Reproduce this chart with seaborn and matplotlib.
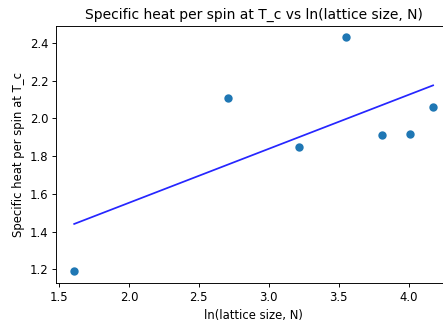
import numpy as np
import pandas as pd
import matplotlib
matplotlib.use("Agg")
import matplotlib.pyplot as plt
import seaborn as sns

ln_lattice_size = [1.609, 2.708, 3.219, 3.555, 3.807, 4.007, 4.174]
specific_heat = [1.19, 2.11, 1.85, 2.43, 1.91, 1.92, 2.06]

df = pd.DataFrame({"x": ln_lattice_size, "y": specific_heat})
slope, intercept = np.polyfit(df["x"], df["y"], 1)
fit = pd.DataFrame({"x": df["x"], "y": slope * df["x"] + intercept})

plt.rcParams['font.family'] = ['DejaVu Sans']
k = 1.16
fig = plt.figure(figsize=(443 / 72, 329 / 72), dpi=72)
ax = fig.add_axes([56.3 / 443, 46 / 329, (451 - 56.3) / 443, (283 - 25.6) / 329])

sns.scatterplot(data=df, x="x", y="y", ax=ax, color="#1f77b4", s=70, linewidth=0)
sns.lineplot(data=fit, x="x", y="y", ax=ax, color="blue", linewidth=1.5 * k, alpha=0.85)

ax.set_xlim(1.481, 4.302)
ax.set_ylim(1.128, 2.492)
ax.set_xticks([1.5, 2.0, 2.5, 3.0, 3.5, 4.0])
ax.set_yticks([1.2, 1.4, 1.6, 1.8, 2.0, 2.2, 2.4])
ax.tick_params(labelsize=10 * k, length=3.5 * k, width=0.8 * k, pad=3.5 * k)
for s in ax.spines.values():
    s.set_linewidth(0.8 * k)
ax.set_title("Specific heat per spin at T_c vs ln(lattice size, N)", fontsize=12 * k, pad=6 * k)
ax.set_xlabel("ln(lattice size, N)", fontsize=10 * k, labelpad=4 * k)
ax.set_ylabel("Specific heat per spin at T_c", fontsize=10 * k, labelpad=4 * k)

fig.savefig("out.png", dpi=72)
